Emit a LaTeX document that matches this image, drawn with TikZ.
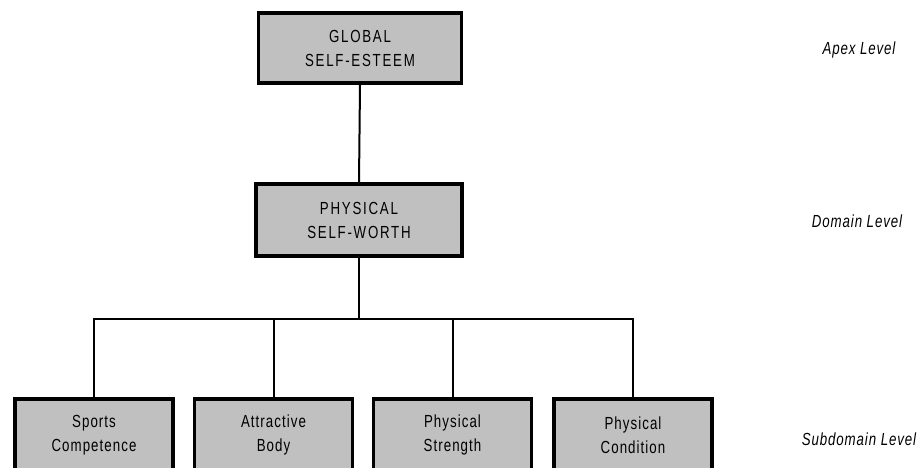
\documentclass[tikz,border=0pt]{standalone}
\usepackage{fontspec}
\setmainfont[FakeStretch=0.76,LetterSpace=6]{Liberation Sans}
\newfontfamily\capsfont[FakeStretch=0.76,LetterSpace=10]{Liberation Sans}
\newfontfamily\labelfont[FakeStretch=0.76,LetterSpace=5]{Liberation Sans}
\definecolor{boxgray}{HTML}{C0C0C0}
\tikzset{
  x=1pt, y=-1pt,
  level/.style={draw=black, line width=3.5pt, fill=boxgray, align=center,
    inner sep=0pt, font=\fontsize{17.5}{24}\selectfont},
  topbox/.style={level, minimum width=203pt, minimum height=70pt,
    font=\capsfont\fontsize{17.5}{24}\selectfont},
  midbox/.style={level, minimum width=206pt, minimum height=72pt,
    font=\capsfont\fontsize{17.5}{24}\selectfont},
  subbox/.style={level, minimum width=158pt, minimum height=72pt},
  link/.style={draw=black, line width=2pt},
  tier/.style={font=\labelfont\itshape\fontsize{17.5}{20}\selectfont, anchor=center}
}
\begin{document}
\begin{tikzpicture}
\useasboundingbox (0,0) rectangle (923,468);
\clip (0,0) rectangle (923,468);
% hierarchy boxes
\node[topbox] (global) at (360,48) {GLOBAL\\SELF-ESTEEM};
\node[midbox] (physical) at (359,220) {PHYSICAL\\SELF-WORTH};
\node[subbox] (sports) at (94,435) {Sports\\Competence};
\node[subbox] (body) at (273.5,435) {Attractive\\Body};
\node[subbox] (strength) at (452.5,435) {Physical\\Strength};
\node[subbox] (condition) at (633,435) {Physical\\Condition};
% level labels
\node[tier] (apex) at (859,50) {Apex Level};
\node[tier] (domain) at (857,221) {Domain Level};
\node[tier] (subdomain) at (859,439) {Subdomain Level};
% connectors
\coordinate (bus) at (359,319);
\draw[link] (global.south) -- (physical.north);
\draw[link] (physical.south) -- (bus);
\draw[link] (sports.north) -- (sports.north |- bus) -- (condition.north |- bus) -- (condition.north);
\draw[link] (body.north) -- (body.north |- bus);
\draw[link] (strength.north) -- (strength.north |- bus);
\end{tikzpicture}
\end{document}
